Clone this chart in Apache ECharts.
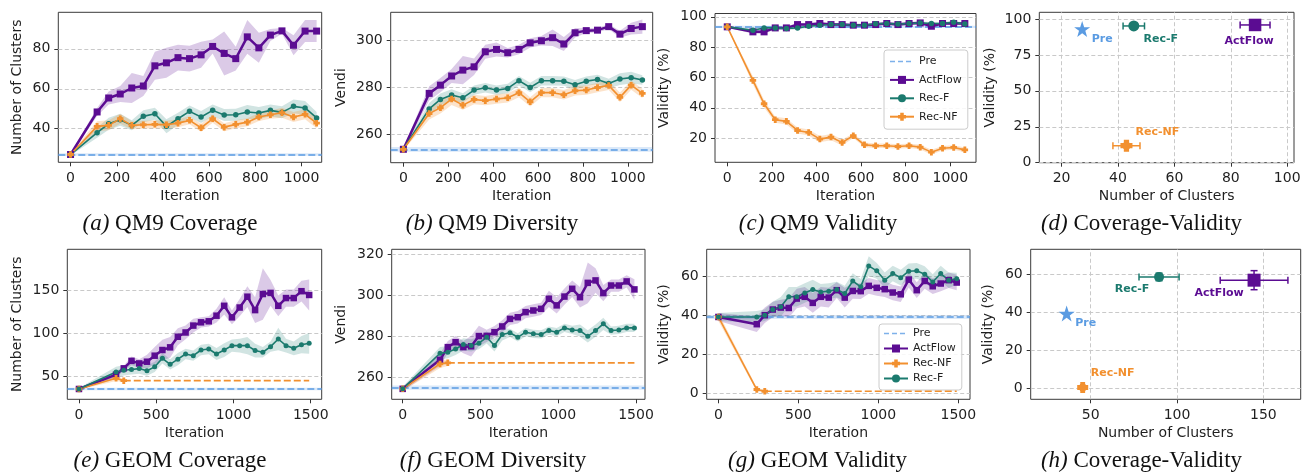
<!DOCTYPE html>
<html><head><meta charset="utf-8">
<script src="https://cdn.jsdelivr.net/npm/echarts@6/dist/echarts.min.js"></script>
<style>html,body{margin:0;padding:0;background:#fff}#c{width:1302px;height:472px}</style>
</head><body><div id="c"></div>
<script>
// ---------------- DATA ----------------
const qm9Iter = [0,115,165,215,265,315,365,415,465,515,565,615,665,715,765,815,865,915,965,1015,1065];
const geomIter = [0,240,290,340,390,440,490,540,590,640,690,740,790,840,890,940,990,1040,1090,1140,1190,1240,1290,1340,1390,1440,1490];
const geomNFIter = [0,240,290];

// (a) QM9 Coverage
const qm9CovPre = 27.1, qm9CovPreSd = 0.6;
const qm9CovActFlow = [27.1,48.4,55.4,57.4,60.4,61.4,71.5,73.0,75.6,75.1,77.0,81.2,77.7,75.1,86.0,80.5,86.9,89.0,81.8,88.9,88.9];
const qm9CovActFlowSd = [0.5,2,3.2,4,7.5,5,7,7.5,6.5,6.5,6.5,3.5,11,6,8.5,7.5,3,1.5,5,5.5,5.5];
const qm9CovRecF = [27.1,38.0,42.5,44.5,41.7,46.2,47.5,41.2,45.0,48.7,45.9,49.2,46.9,47.0,48.4,47.9,49.2,48.2,51.2,50.4,45.4];
const qm9CovRecFSd = [0.5,2.5,3,3,2.5,3,3,3.5,3,3,3,3,3,3,3.5,3,3,3,3.5,3.5,3];
const qm9CovRecNF = [27.1,41.2,41.7,45.0,41.7,42.0,42.2,42.0,42.8,44.2,40.5,45.0,40.8,42.2,43.3,45.9,47.0,48.0,45.9,47.2,42.8];
const qm9CovRecNFSd = [0.5,2.5,2.5,2.5,2,2,2,2,2,2,2,2,2,2,2,2,2,2.5,2.5,2.5,2.5];

// (b) QM9 Diversity
const qm9DivPre = 253.8, qm9DivPreSd = 1;
const qm9DivActFlow = [253.8,277.6,281.1,285.0,287.5,288.9,295.3,296.3,294.9,296.3,299.1,300.0,301.3,298.6,303.4,304.3,304.5,306.0,302.8,305.2,306.0];
const qm9DivActFlowSd = [0.5,3,3,3,6,3.5,3,3,2,2,2,2,3.5,3,2,1,1,1,1.5,2.5,3];
const qm9DivRecF = [253.8,271.0,275.0,276.9,275.7,279.0,280.0,279.0,279.7,283.0,280.1,283.0,283.0,282.8,281.3,282.8,283.5,281.8,283.7,284.3,283.3];
const qm9DivRecFSd = [0.5,2.5,2.5,2.5,2,2,2,2,2,2,2,2,2,2,2,2,2,2,2.5,2.5,2];
const qm9DivRecNF = [253.8,269.0,271.5,275.2,272.6,275.0,274.5,275.2,275.7,277.9,274.0,277.9,277.9,277.0,278.7,279.0,280.1,281.0,275.9,281.1,277.6];
const qm9DivRecNFSd = [0.5,2.5,2.5,2.5,2,2,2,2,2,2,2,2,2,2,2,2,2,2,2,2,2];

// (c) QM9 Validity
const qm9ValPre = 93.4, qm9ValPreSd = 0.8;
const qm9ValActFlow = [93.4,90.1,90.1,92.7,92.7,94.9,94.9,95.6,94.9,94.9,94.5,94.5,94.9,95.6,94.9,95.6,96.0,93.8,95.6,95.6,95.6];
const qm9ValActFlowSd = [0.5,1.2,1.2,1,1,1,1,1,1,1,1,1,1,1,1,1,1,1,1,1,1];
const qm9ValRecF = [93.4,91.2,92.7,92.7,92.3,92.7,93.8,94.5,94.9,94.9,94.5,94.5,95.4,95.6,95.2,95.6,96.0,95.6,95.6,96.5,95.2];
const qm9ValRecFSd = [0.5,1,1,1,1,1,1,1,1,1,1,1,1,1,1,1,1,1,1,1,1];
const qm9ValRecNF = [93.4,58.1,42.7,32.2,31.1,25.1,23.8,19.4,20.7,17.2,21.6,15.6,15.0,15.0,14.5,15.0,14.1,10.8,13.4,13.9,12.3];
const qm9ValRecNFSd = [0.5,2.5,2.5,2,2,2,2,2,2,2,1.5,1.5,1.5,1.5,1.5,1.5,1.5,1.5,1.5,1.5,1.5];

// (e) GEOM Coverage
const geomCovPre = 35.3, geomCovPreSd = 1.5;
const geomCovActFlow = [35.3,52,59.3,68,65,67,74,80.6,83.7,96,101,109,112.8,114,120.5,132,118.6,130,142.6,127,145.7,147,132,141,141,149,144.6];
const geomCovActFlowSd = [1,3,3,5,5,8,10,12,12,10,8,8,6,6,8,10,8,10,12,15,30,15,12,10,10,12,18];
const geomCovRecF = [35.3,55,57,58,59,56.6,61,71,64,70,76,74,80.6,81.8,76,80.6,85.7,85.7,85.7,80,78,84.5,93.4,85.7,82.6,86.8,88.4];
const geomCovRecFSd = [1,6,6,6,6,6,6,6,6,7,6,6,6,6,7,8,7,8,10,8,6,6,13,8,8,10,12];
const geomCovRecNF = [35.3,47.7,45.0];
const geomCovRecNFSd = [1,3,2];

// (f) GEOM Diversity
const geomDivPre = 254.8, geomDivPreSd = 1;
const geomDivActFlow = [254.2,268.4,274.6,277.0,274.6,275.0,280.0,280.1,281.9,284.7,288.4,289.2,291.7,292.5,293.3,298.2,295.0,299.3,303.1,299.0,306.0,307.2,301.0,304.7,304.7,306.7,302.8];
const geomDivActFlowSd = [1,3,3,3,3,5,5,3,3,3,3,3,3,3,3,4,4,4,4,5,10,6,4,3,3,3,5];
const geomDivRecF = [254.2,271.6,272.1,273.7,275.9,275.4,276.5,279.4,275.4,280.8,281.6,279.4,281.9,281.1,280.8,282.7,281.9,284.0,283.0,282.7,279.9,282.7,286.0,282.7,283.0,284.0,284.0];
const geomDivRecFSd = [1,3,3,3,3,3,3,3,3,3,2,2,2,2,2,2,2,2,2,3,3,3,3,2,2,2,2];
const geomDivRecNF = [254.2,266.4,266.9];
const geomDivRecNFSd = [1,2,1.5];

// (g) GEOM Validity
const geomValPre = 39.0, geomValPreSd = 1;
const geomValActFlow = [39,35.3,39.9,42.8,43.8,43.6,48.4,49.3,46.2,49.3,48.9,52.7,48.9,52.3,52.2,54.9,53.9,53.2,51.5,50.6,58.1,52.7,57.4,54.7,56.1,57.8,56.6];
const geomValActFlowSd = [2,4,4,4,4,5,5,5,5,5,5,4,5,4,4,4,4,4,4,4,4,4,4,4,4,4,4];
const geomValRecF = [39,39,39.9,42.8,44.2,49.3,49.3,51.3,53,51.8,52.2,53,51,57.4,54.4,65.1,62.6,57.8,61.2,59.1,62.4,62.6,60.9,56.9,61.2,57.8,58.6];
const geomValRecFSd = [2,3,3,4,5,5,5,5,5,4,4,4,4,4,4,5,4,4,4,4,4,4,4,4,4,4,3];
const geomValRecNF = [39,1.9,1.0];
const geomValRecNFSd = [2,1,0.5];

// (d) / (h) Coverage-Validity
const pointNames = ['Pre','Rec-F','ActFlow','Rec-NF'];
const qm9ClusterMean = [27.3,45.6,88.6,43.0];
const qm9ClusterErr  = [0,3.8,5.3,4.8];
const qm9ValidMean   = [93.0,95.1,95.8,11.8];
const qm9ValidErr    = [0,1,1,1.5];
const geomClusterMean = [36.1,89.6,144.6,45.4];
const geomClusterErr  = [0,11.6,19.6,1.2];
const geomValidMean   = [39.4,58.6,56.9,0.6];
const geomValidErr    = [0,2,5,0.6];

// tick labels
const qm9IterTicks = [0,200,400,600,800,1000];
const geomIterTicks = [0,500,1000,1500];
const qm9CovTicks = [40,60,80];
const qm9DivTicks = [260,280,300];
const qm9ValTicks = [20,40,60,80,100];
const qm9ScXTicks = [20,40,60,80,100];
const qm9ScYTicks = [0,25,50,75,100];
const geomCovTicks = [50,100,150];
const geomDivTicks = [260,280,300,320];
const geomValTicks = [0,20,40,60];
const geomScXTicks = [50,100,150];
const geomScYTicks = [0,20,40,60];

const captionTags = ['(a)','(b)','(c)','(d)','(e)','(f)','(g)','(h)'];
const captionTexts = ['QM9 Coverage','QM9 Diversity','QM9 Validity','Coverage-Validity','GEOM Coverage','GEOM Diversity','GEOM Validity','Coverage-Validity'];

// ---------------- STYLE / LAYOUT ----------------
const FONT = 'DejaVu Sans';
const SERIF = 'Liberation Serif';
const TXT = '#1f1f1f';
const PURPLE = '#5B0C92', TEAL = '#1B7A6E', ORANGE = '#F2902F', BLUE = '#5A9BE2';
const PLUS = 'path://M28,0 H72 V28 H100 V72 H72 V100 H28 V72 H0 V28 H28 Z';
const methodStyle = {
  'ActFlow': {color: PURPLE, band: 'rgba(91,12,146,0.22)', symbol: 'rect', size: [7, 6.5], width: 2.5},
  'Rec-F':   {color: TEAL,   band: 'rgba(27,122,110,0.2)', symbol: 'circle', size: [5.5, 5], width: 1.6},
  'Rec-NF':  {color: ORANGE, band: 'rgba(242,144,47,0.25)', symbol: PLUS, size: [6.5, 6.5], width: 1.6}
};
const DASH = [7, 3];
const STAR = 'path://M50,2 L61.8,38.2 L97.6,38.2 L68.7,59.5 L79.4,95.1 L50,73.5 L20.6,95.1 L31.3,59.5 L2.4,38.2 L38.2,38.2 Z';

const layout = [
  {rect:[58.3,12.3,263.4,150],   xr:[-53,1087],   yr:[23.2,98.3],   xt:qm9IterTicks, yt:qm9CovTicks, xn:'Iteration', yn:'Number of Clusters', yGap:34},
  {rect:[390.7,12.3,262,150.4],  xr:[-56.5,1111], yr:[248.1,312.1], xt:qm9IterTicks, yt:qm9DivTicks, xn:'Iteration', yn:'Vendi', yGap:42},
  {rect:[715,13.5,261,148.8],    xr:[-55,1115],   yr:[4.1,102.2],   xt:qm9IterTicks, yt:qm9ValTicks, xn:'Iteration', yn:'Validity (%)', yGap:44},
  {rect:[1039.3,12.3,254.7,150.4], xr:[12.1,102.4], yr:[0,104.6],   xt:qm9ScXTicks, yt:qm9ScYTicks, xn:'Number of Clusters', yn:'Validity (%)', yGap:42, both:true},
  {rect:[67.3,249.3,254.4,150],  xr:[-75.5,1571], yr:[23.3,197.7],  xt:geomIterTicks, yt:geomCovTicks, xn:'Iteration', yn:'Number of Clusters', yGap:43},
  {rect:[391.7,249.3,253.3,150], xr:[-70.7,1558], yr:[249.1,322.4], xt:geomIterTicks, yt:geomDivTicks, xn:'Iteration', yn:'Vendi', yGap:43},
  {rect:[706.7,249.3,263.3,150], xr:[-73,1573],   yr:[-3.1,73.6],   xt:geomIterTicks, yt:geomValTicks, xn:'Iteration', yn:'Validity (%)', yGap:35},
  {rect:[1030.7,249.3,270,150],  xr:[15.3,171.6], yr:[-5.6,73.1],   xt:geomScXTicks, yt:geomScYTicks, xn:'Number of Clusters', yn:'Validity (%)', yGap:35, both:true}
];
const captionPos = [[170,224],[492,224],[818,224],[1141.5,224],[170,461],[493,461],[817.5,461],[1141.5,461]];

// ---------------- BUILD ----------------
const grids = [], xAxes = [], yAxes = [], series = [];
const plainNum = v => String(v);
layout.forEach((p, i) => {
  grids.push({left:p.rect[0], top:p.rect[1], width:p.rect[2], height:p.rect[3], show:true,
    borderColor:'#3a3a3a', borderWidth:1, backgroundColor:'transparent', containLabel:false, outerBoundsMode:'none'});
  const common = {
    type:'value', gridIndex:i, axisLine:{show:false, onZero:false},
    splitLine:{show:false},
    axisTick:{show:true, length:4, lineStyle:{color:'#333', width:1}},
    axisLabel:{fontSize:14, color:TXT, fontFamily:FONT, formatter:plainNum},
    nameLocation:'middle', nameTextStyle:{fontSize:14, color:TXT, fontFamily:FONT}
  };
  xAxes.push(Object.assign({}, common, {
    min:p.xr[0], max:p.xr[1], name:p.xn, nameGap:27,
    axisTick:Object.assign({}, common.axisTick, {customValues:p.xt}),
    axisLabel:Object.assign({}, common.axisLabel, {customValues:p.xt, margin:9})
  }));
  yAxes.push(Object.assign({}, common, {
    min:p.yr[0], max:p.yr[1], name:p.yn, nameGap:p.yGap,
    axisTick:Object.assign({}, common.axisTick, {customValues:p.yt}),
    axisLabel:Object.assign({}, common.axisLabel, {customValues:p.yt, margin:8})
  }));
  // dashed grid lines
  const gl = p.yt.map(v => ({yAxis:v}));
  if (p.both) p.xt.forEach(v => gl.push({xAxis:v}));
  series.push({type:'line', name:'_grid'+i, xAxisIndex:i, yAxisIndex:i, data:[], silent:true,
    markLine:{silent:true, z:1, symbol:['none','none'], label:{show:false}, animation:false,
      lineStyle:{type:[4,2.5], color:'#c9c9c9', width:1}, emphasis:{disabled:true}, data:gl}});
});

function bandSeries(g, xs, ys, sd, color) {
  return {type:'custom', name:'_band', xAxisIndex:g, yAxisIndex:g, silent:true, z:2, clip:true,
    data:[[xs[0], ys[0]]],
    renderItem:(params, api) => {
      const pts = [];
      for (let k = 0; k < xs.length; k++) pts.push(api.coord([xs[k], ys[k] + sd[k]]));
      for (let k = xs.length - 1; k >= 0; k--) pts.push(api.coord([xs[k], ys[k] - sd[k]]));
      return {type:'polygon', shape:{points:pts}, style:{fill:color, stroke:null}};
    }};
}
function preSeries(g, v, sd) {
  return {type:'line', name:'Pre', xAxisIndex:g, yAxisIndex:g, data:[], symbol:'none', z:6,
    lineStyle:{color:BLUE, width:1.6, type:DASH}, itemStyle:{color:BLUE},
    markLine:{silent:true, z:6, symbol:['none','none'], label:{show:false},
      lineStyle:{color:BLUE, width:1.6, type:DASH}, data:[{yAxis:v}]},
    markArea:{silent:true, z:2, itemStyle:{color:'rgba(90,155,226,0.22)'}, data:[[{yAxis:v - sd}, {yAxis:v + sd}]]}};
}
function lineSeries(g, name, xs, ys, row) {
  const s = methodStyle[name];
  return {type:'line', name:name, xAxisIndex:g, yAxisIndex:g, z:10,
    data: xs.map((x, k) => [x, ys[k]]),
    symbol:s.symbol, symbolSize:s.size[row], showSymbol:true, clip:true,
    lineStyle:{color:s.color, width:s.width}, itemStyle:{color:s.color}, emphasis:{disabled:true}};
}
function extSeries(g, xs, ys, xEnd) {
  const lx = xs[xs.length - 1], ly = ys[ys.length - 1];
  return {type:'line', name:'_ext', xAxisIndex:g, yAxisIndex:g, z:9, symbol:'none',
    data:[[lx, ly], [xEnd, ly]], lineStyle:{color:ORANGE, width:1.6, type:DASH}, emphasis:{disabled:true}};
}

const linePanels = [
  {g:0, row:0, pre:[qm9CovPre, qm9CovPreSd], order:['ActFlow','Rec-F','Rec-NF'],
   m:{'ActFlow':[qm9Iter,qm9CovActFlow,qm9CovActFlowSd],'Rec-F':[qm9Iter,qm9CovRecF,qm9CovRecFSd],'Rec-NF':[qm9Iter,qm9CovRecNF,qm9CovRecNFSd]}},
  {g:1, row:0, pre:[qm9DivPre, qm9DivPreSd], order:['ActFlow','Rec-F','Rec-NF'],
   m:{'ActFlow':[qm9Iter,qm9DivActFlow,qm9DivActFlowSd],'Rec-F':[qm9Iter,qm9DivRecF,qm9DivRecFSd],'Rec-NF':[qm9Iter,qm9DivRecNF,qm9DivRecNFSd]}},
  {g:2, row:0, pre:[qm9ValPre, qm9ValPreSd], order:['ActFlow','Rec-F','Rec-NF'],
   m:{'ActFlow':[qm9Iter,qm9ValActFlow,qm9ValActFlowSd],'Rec-F':[qm9Iter,qm9ValRecF,qm9ValRecFSd],'Rec-NF':[qm9Iter,qm9ValRecNF,qm9ValRecNFSd]}},
  {g:4, row:1, pre:[geomCovPre, geomCovPreSd], order:['ActFlow','Rec-NF','Rec-F'], ext:true,
   m:{'ActFlow':[geomIter,geomCovActFlow,geomCovActFlowSd],'Rec-F':[geomIter,geomCovRecF,geomCovRecFSd],'Rec-NF':[geomNFIter,geomCovRecNF,geomCovRecNFSd]}},
  {g:5, row:1, pre:[geomDivPre, geomDivPreSd], order:['ActFlow','Rec-NF','Rec-F'], ext:true,
   m:{'ActFlow':[geomIter,geomDivActFlow,geomDivActFlowSd],'Rec-F':[geomIter,geomDivRecF,geomDivRecFSd],'Rec-NF':[geomNFIter,geomDivRecNF,geomDivRecNFSd]}},
  {g:6, row:1, pre:[geomValPre, geomValPreSd], order:['ActFlow','Rec-NF','Rec-F'], ext:true,
   m:{'ActFlow':[geomIter,geomValActFlow,geomValActFlowSd],'Rec-F':[geomIter,geomValRecF,geomValRecFSd],'Rec-NF':[geomNFIter,geomValRecNF,geomValRecNFSd]}}
];
linePanels.forEach(P => {
  series.push(preSeries(P.g, P.pre[0], P.pre[1]));
  P.order.forEach(n => { const d = P.m[n]; series.push(bandSeries(P.g, d[0], d[1], d[2], methodStyle[n].band)); });
  P.order.forEach(n => {
    const d = P.m[n];
    series.push(lineSeries(P.g, n, d[0], d[1], P.row));
    if (P.ext && n === 'Rec-NF') series.push(extSeries(P.g, d[0], d[1], geomIter[geomIter.length - 1]));
  });
});

// scatter panels
const pointStyle = {
  'Pre':     {color:BLUE,   symbol:STAR,     size:[16,16]},
  'Rec-F':   {color:TEAL,   symbol:'circle', size:[11,10]},
  'ActFlow': {color:PURPLE, symbol:'rect',   size:[12.5,13]},
  'Rec-NF':  {color:ORANGE, symbol:PLUS,     size:[12,11]}
};
const labelOffset = [
  {'Pre':[20,10], 'Rec-F':[27,13], 'ActFlow':[-6,16], 'Rec-NF':[31,-13.5]},
  {'Pre':[19,10], 'Rec-F':[-27,12], 'ActFlow':[-35,13], 'Rec-NF':[30,-14]}
];
function scatterPanel(g, row, xm, xe, ym, ye) {
  const cols = pointNames.map(n => pointStyle[n].color);
  series.push({type:'custom', name:'_err'+g, xAxisIndex:g, yAxisIndex:g, silent:true, z:8,
    data: xm.map((x, k) => [x, ym[k], xe[k], ye[k], k]),
    renderItem:(params, api) => {
      const x = api.value(0), y = api.value(1), ex = api.value(2), ey = api.value(3), c = cols[api.value(4)];
      const st = {stroke:c, lineWidth:1.5}, cap = 3.5, ch = [];
      if (ex > 0) {
        const a = api.coord([x - ex, y]), b = api.coord([x + ex, y]);
        ch.push({type:'line', shape:{x1:a[0], y1:a[1], x2:b[0], y2:b[1]}, style:st});
        ch.push({type:'line', shape:{x1:a[0], y1:a[1]-cap, x2:a[0], y2:a[1]+cap}, style:st});
        ch.push({type:'line', shape:{x1:b[0], y1:b[1]-cap, x2:b[0], y2:b[1]+cap}, style:st});
      }
      if (ey > 0) {
        const a = api.coord([x, y - ey]), b = api.coord([x, y + ey]);
        ch.push({type:'line', shape:{x1:a[0], y1:a[1], x2:b[0], y2:b[1]}, style:st});
        ch.push({type:'line', shape:{x1:a[0]-cap, y1:a[1], x2:a[0]+cap, y2:a[1]}, style:st});
        ch.push({type:'line', shape:{x1:b[0]-cap, y1:b[1], x2:b[0]+cap, y2:b[1]}, style:st});
      }
      return {type:'group', children:ch};
    }});
  pointNames.forEach((n, k) => {
    const s = pointStyle[n];
    series.push({type:'scatter', name:'_pt'+g+n, xAxisIndex:g, yAxisIndex:g, z:12,
      symbol:s.symbol, symbolSize:s.size[row], itemStyle:{color:s.color, opacity:1},
      data:[{name:n, value:[xm[k], ym[k]]}], emphasis:{disabled:true},
      label:{show:true, position:'inside', offset:labelOffset[row][n], formatter:'{b}',
        color:s.color, fontWeight:'bold', fontSize:11, fontFamily:FONT}});
  });
}
scatterPanel(3, 0, qm9ClusterMean, qm9ClusterErr, qm9ValidMean, qm9ValidErr);
scatterPanel(7, 1, geomClusterMean, geomClusterErr, geomValidMean, geomValidErr);

const legendCommon = {orient:'vertical', itemWidth:24, itemHeight:10, selectedMode:false,
  backgroundColor:'rgba(255,255,255,0.85)', borderColor:'#cccccc', borderWidth:1, borderRadius:3,
  textStyle:{fontSize:11, fontFamily:FONT, color:TXT}};
const preLegendItem = {name:'Pre', itemStyle:{opacity:0}, lineStyle:{color:'#7DB1EA', width:1.6, type:[5,3], opacity:1}};
const legends = [
  Object.assign({}, legendCommon, {data:[preLegendItem,'ActFlow','Rec-F','Rec-NF'], left:884, top:50, itemGap:7.4, padding:[6,6,7,5]}),
  Object.assign({}, legendCommon, {data:[preLegendItem,'ActFlow','Rec-NF','Rec-F'], left:879, top:324, itemGap:4, padding:[4,6,6,4]})
];

const graphics = captionTags.map((t, i) => ({
  type:'text', x:captionPos[i][0], y:captionPos[i][1], silent:true,
  style:{text:'{i|' + t + '} ' + captionTexts[i], fontSize:23, fontFamily:SERIF, fill:'#111',
    align:'center', verticalAlign:'middle',
    rich:{i:{fontStyle:'italic', fontSize:23, fontFamily:SERIF, fill:'#111'}}}
}));

const chart = echarts.init(document.getElementById('c'), null, {renderer:'canvas'});
chart.setOption({
  animation:false, backgroundColor:'#ffffff',
  grid:grids, xAxis:xAxes, yAxis:yAxes, legend:legends, series:series, graphic:graphics
});
</script></body></html>
